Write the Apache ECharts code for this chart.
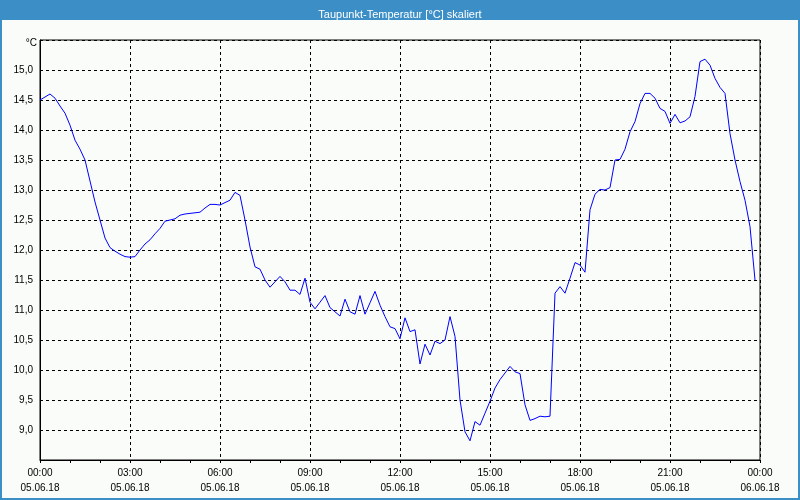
<!DOCTYPE html>
<html>
<head>
<meta charset="utf-8">
<script src="https://cdn.jsdelivr.net/npm/echarts@6/dist/echarts.min.js"></script>
<style>
html,body{margin:0;padding:0;background:#f9fcf9;}
#chart{width:800px;height:500px;}
</style>
</head>
<body>
<div id="chart"></div>
<script>
// Time of each reading (minutes after 05.06.18 00:00)
var minutes = [0,10,20,30,40,50,60,70,80,90,100,110,120,130,140,150,160,170,180,190,200,210,220,230,240,250,260,270,280,290,300,310,320,330,340,350,360,370,380,390,400,410,420,430,440,450,460,470,480,490,500,510,520,530,540,550,560,570,580,590,600,610,620,630,640,650,660,670,680,690,700,710,720,730,740,750,760,770,780,790,800,810,820,830,840,850,860,870,880,890,900,910,920,930,940,950,960,970,980,990,1000,1010,1020,1030,1040,1050,1060,1070,1080,1090,1100,1110,1120,1130,1140,1150,1160,1170,1180,1190,1200,1210,1220,1230,1240,1250,1260,1270,1280,1290,1300,1310,1320,1330,1340,1350,1360,1370,1380,1390,1400,1410,1420,1430];
// Dew point temperature [°C]
var dewPoint = [14.50,14.55,14.60,14.53,14.40,14.28,14.08,13.83,13.68,13.50,13.15,12.80,12.50,12.20,12.04,11.98,11.93,11.89,11.88,11.89,12.00,12.10,12.17,12.27,12.36,12.48,12.50,12.52,12.58,12.60,12.61,12.62,12.63,12.70,12.76,12.76,12.75,12.79,12.83,12.96,12.91,12.50,12.05,11.72,11.68,11.50,11.38,11.47,11.56,11.47,11.33,11.33,11.26,11.53,11.13,11.02,11.13,11.24,11.04,10.97,10.90,11.18,10.97,10.93,11.24,10.93,11.12,11.31,11.08,10.89,10.72,10.69,10.52,10.87,10.64,10.67,10.10,10.43,10.25,10.48,10.44,10.50,10.89,10.56,9.50,8.97,8.82,9.14,9.08,9.28,9.48,9.70,9.84,9.95,10.06,9.97,9.94,9.42,9.16,9.19,9.23,9.22,9.23,11.28,11.39,11.28,11.53,11.79,11.75,11.63,12.67,12.93,13.01,13.00,13.04,13.50,13.51,13.68,13.97,14.14,14.44,14.61,14.61,14.53,14.36,14.31,14.11,14.26,14.12,14.15,14.22,14.56,15.14,15.18,15.08,14.86,14.71,14.61,13.94,13.50,13.14,12.83,12.39,11.50];
// X tick labels (every 3 hours)
var xTickTimes = ['00:00','03:00','06:00','09:00','12:00','15:00','18:00','21:00','00:00'];
var xTickDates = ['05.06.18','05.06.18','05.06.18','05.06.18','05.06.18','05.06.18','05.06.18','05.06.18','06.06.18'];
var titleText = 'Taupunkt-Temperatur [°C] skaliert';
var yUnit = '°C';

var seriesData = minutes.map(function(m, i){ return [m, dewPoint[i]]; });

var chart = echarts.init(document.getElementById('chart'), null, {renderer:'canvas'});
var FONT = 'Liberation Sans';
chart.setOption({
  backgroundColor: '#f9fcf9',
  animation: false,
  title: {
    text: titleText,
    left: 'center',
    top: 4,
    textStyle: {color:'#ffffff', fontSize:11, fontWeight:'normal', fontFamily:FONT}
  },
  graphic: [
    {type:'rect', z:0, shape:{x:0,y:0,width:800,height:20}, style:{fill:'#3c8fc6'}},
    {type:'rect', z:0, shape:{x:1,y:1,width:798,height:498}, style:{fill:'none', stroke:'#3c8fc6', lineWidth:2}},
    {type:'text', z:5, right: 763, top: 38, style:{text:yUnit, fill:'#000', font:'10px ' + FONT}}
  ],
  grid: {left:40, right:40, top:40, bottom:40, show:true, borderColor:'#000', borderWidth:1, backgroundColor:'transparent'},
  xAxis: {
    type:'value', min:0, max:1440, interval:180,
    axisLine:{show:true, lineStyle:{color:'#000', width:1}},
    axisTick:{show:true, length:3, lineStyle:{color:'#000'}},
    minorTick:{show:true, splitNumber:3, length:3, lineStyle:{color:'#000'}},
    splitLine:{show:true, lineStyle:{color:'#000', type:[3,3], width:1}},
    axisLabel:{
      margin:6, fontSize:10, lineHeight:15, color:'#000', fontFamily:FONT,
      formatter:function(v){ var i = Math.round(v/180); return xTickTimes[i] + '\n' + xTickDates[i]; }
    }
  },
  yAxis: {
    type:'value', min:8.5, max:15.5, interval:0.5,
    axisLine:{show:true, lineStyle:{color:'#000', width:1}},
    axisTick:{show:false},
    splitLine:{show:true, lineStyle:{color:'#000', type:[3,3], width:1}},
    axisLabel:{
      margin:7, fontSize:10, color:'#000', fontFamily:FONT,
      formatter:function(v){ if (v < 8.9 || v > 15.1) return ''; return v.toFixed(1).replace('.', ','); }
    }
  },
  series: [{
    type:'line', data: seriesData, showSymbol:false, symbol:'none',
    lineStyle:{color:'#0000ff', width:1}, smooth:false
  }]
});
</script>
</body>
</html>
